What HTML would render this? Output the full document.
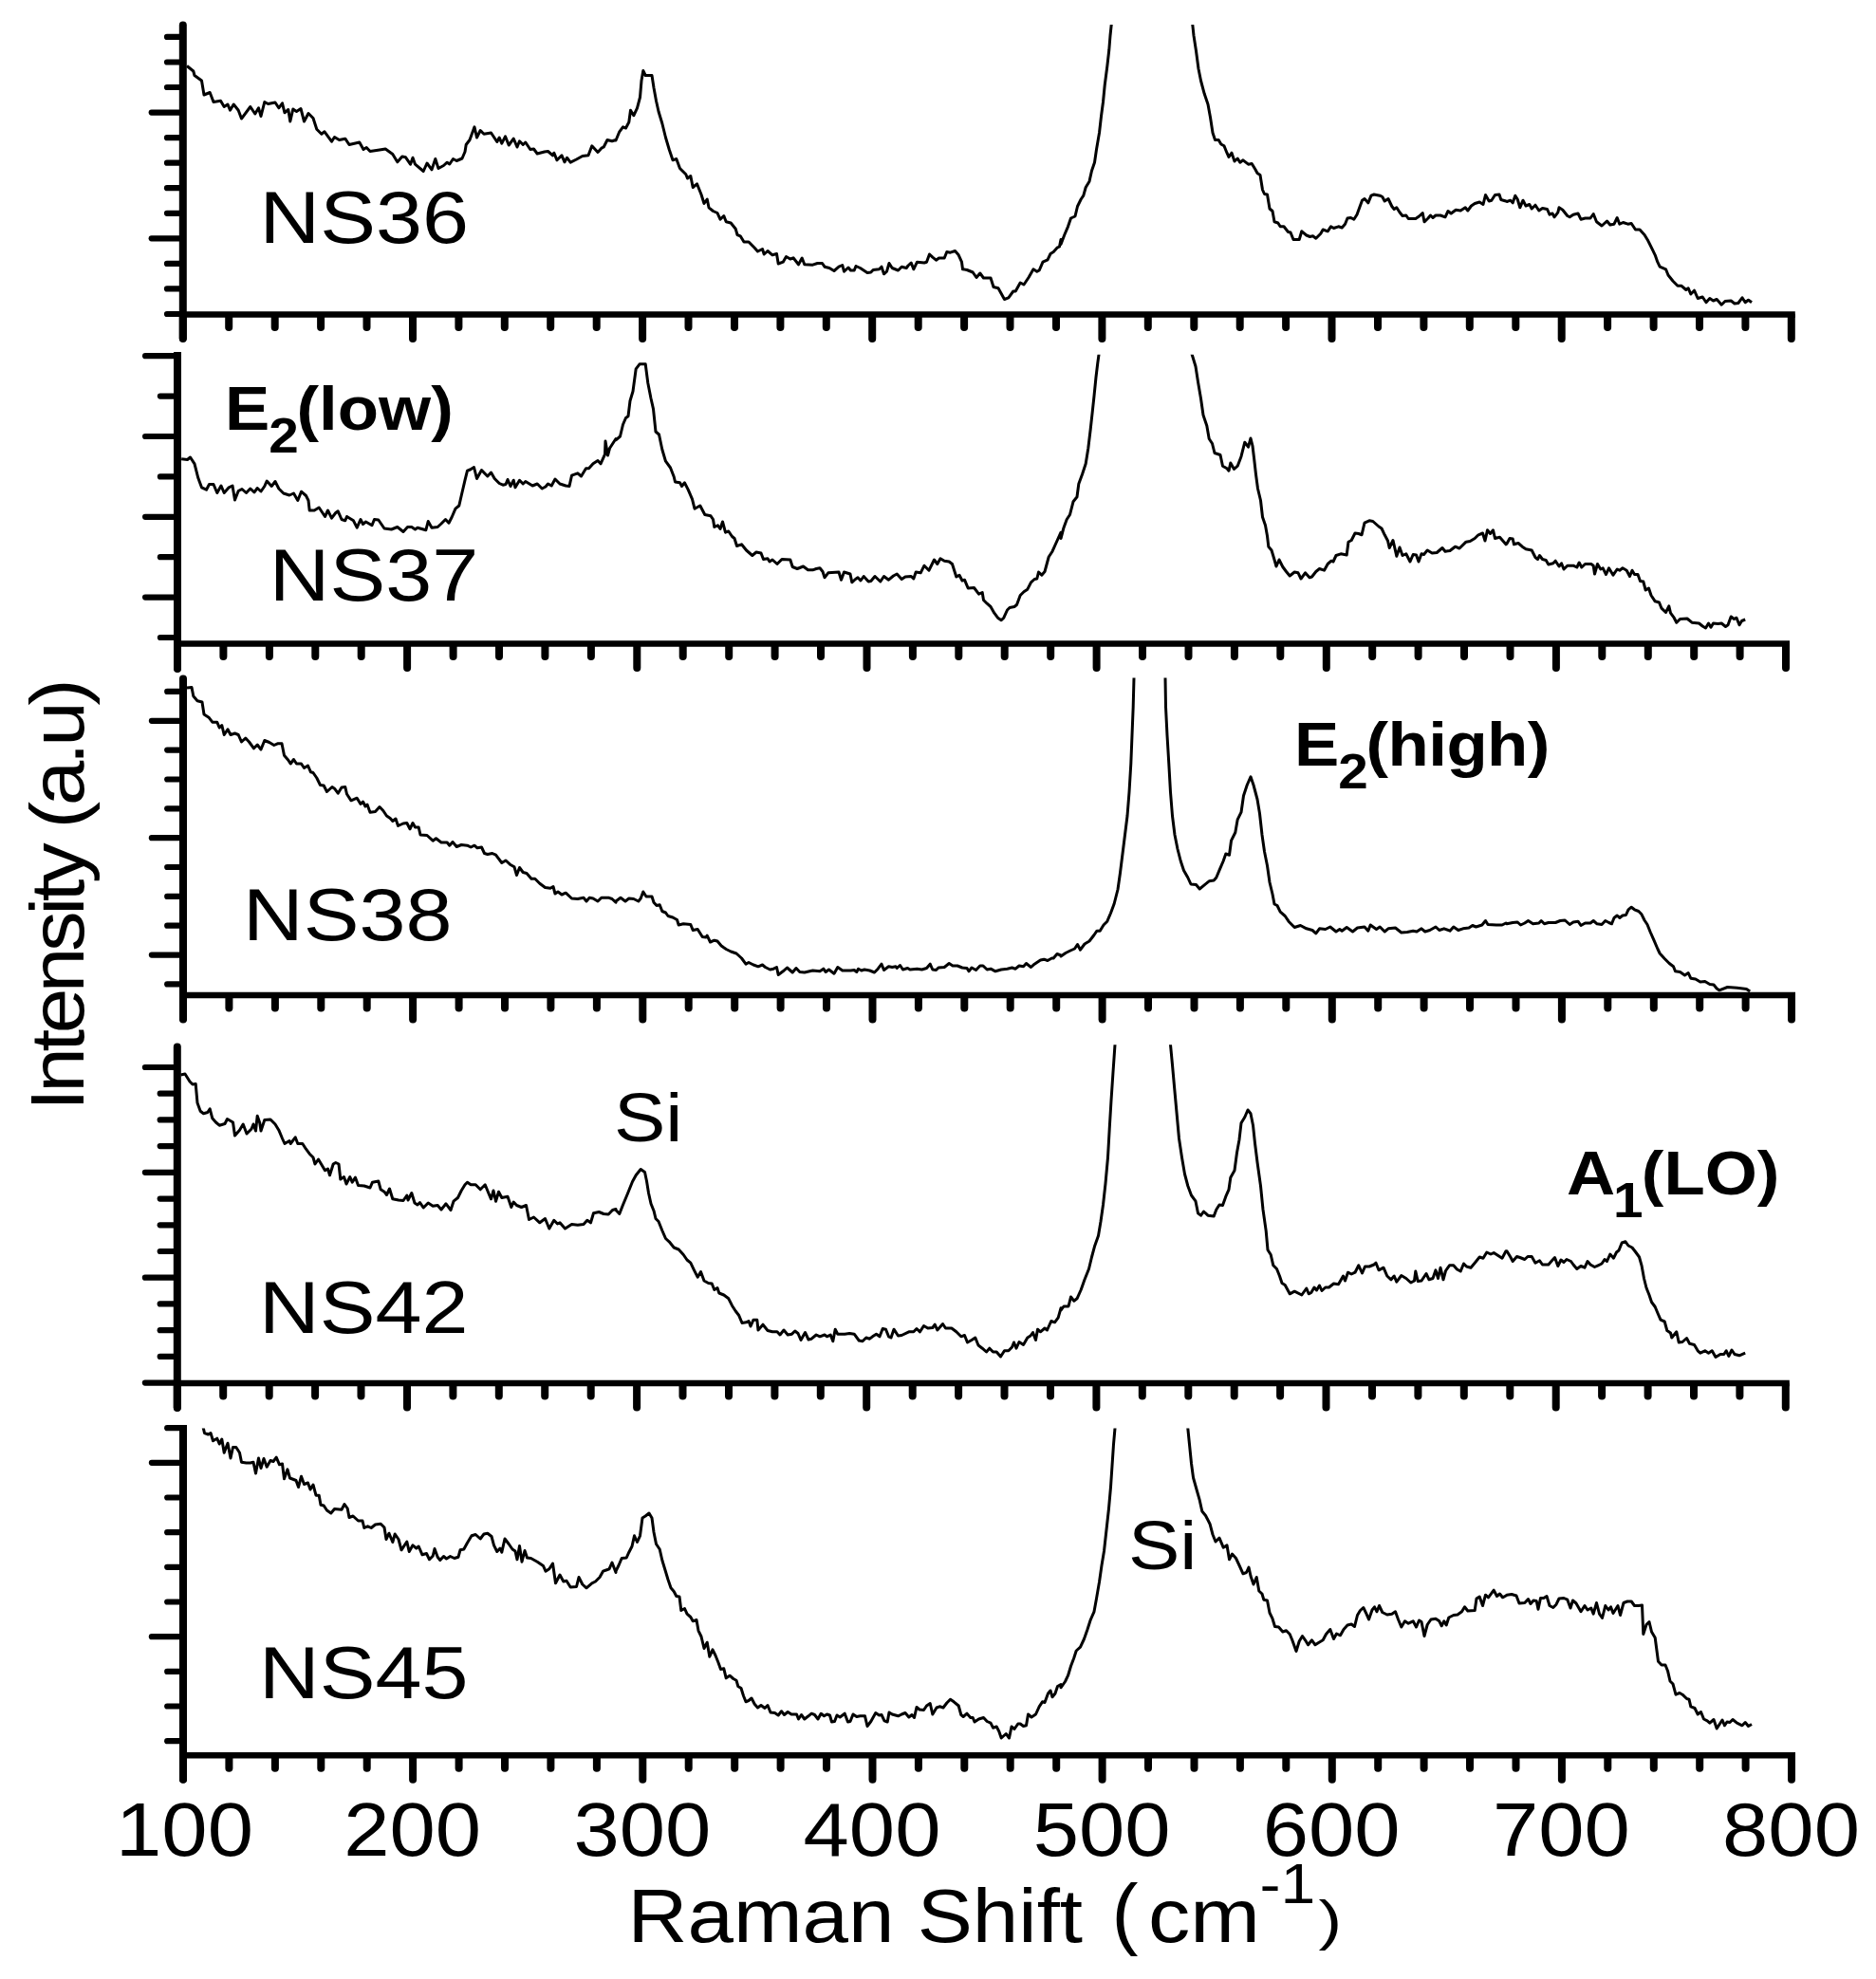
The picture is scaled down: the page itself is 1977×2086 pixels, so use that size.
<!DOCTYPE html>
<html lang="en"><head><meta charset="utf-8"><title>Raman spectra</title>
<style>html,body{margin:0;padding:0;background:#fff}body{width:1977px;height:2086px;overflow:hidden}</style>
</head><body>
<svg width="1977" height="2086" viewBox="0 0 1977 2086" style="display:block">
<defs><clipPath id="cp1"><rect x="0" y="26.0" width="1977" height="420"/></clipPath><clipPath id="cp2"><rect x="0" y="373.75" width="1977" height="420"/></clipPath><clipPath id="cp3"><rect x="0" y="714.5" width="1977" height="420"/></clipPath><clipPath id="cp4"><rect x="0" y="1101.25" width="1977" height="420"/></clipPath><clipPath id="cp5"><rect x="0" y="1505.5" width="1977" height="420"/></clipPath></defs>
<rect width="1977" height="2086" fill="#fff"/>
<g stroke="#000" fill="none">
<line x1="192.8" y1="26.5" x2="192.8" y2="356.3" stroke-width="8" stroke-linecap="round"/>
<line x1="192.8" y1="331.4" x2="1891.8" y2="331.4" stroke-width="6.5" stroke-linecap="butt"/>
<line x1="192.8" y1="332.9" x2="192.8" y2="356.9" stroke-width="8" stroke-linecap="round"/>
<line x1="241.2" y1="332.9" x2="241.2" y2="344.9" stroke-width="8" stroke-linecap="round"/>
<line x1="289.7" y1="332.9" x2="289.7" y2="344.9" stroke-width="8" stroke-linecap="round"/>
<line x1="338.1" y1="332.9" x2="338.1" y2="344.9" stroke-width="8" stroke-linecap="round"/>
<line x1="386.5" y1="332.9" x2="386.5" y2="344.9" stroke-width="8" stroke-linecap="round"/>
<line x1="435.0" y1="332.9" x2="435.0" y2="356.9" stroke-width="8" stroke-linecap="round"/>
<line x1="483.4" y1="332.9" x2="483.4" y2="344.9" stroke-width="8" stroke-linecap="round"/>
<line x1="531.8" y1="332.9" x2="531.8" y2="344.9" stroke-width="8" stroke-linecap="round"/>
<line x1="580.2" y1="332.9" x2="580.2" y2="344.9" stroke-width="8" stroke-linecap="round"/>
<line x1="628.7" y1="332.9" x2="628.7" y2="344.9" stroke-width="8" stroke-linecap="round"/>
<line x1="677.1" y1="332.9" x2="677.1" y2="356.9" stroke-width="8" stroke-linecap="round"/>
<line x1="725.5" y1="332.9" x2="725.5" y2="344.9" stroke-width="8" stroke-linecap="round"/>
<line x1="774.0" y1="332.9" x2="774.0" y2="344.9" stroke-width="8" stroke-linecap="round"/>
<line x1="822.4" y1="332.9" x2="822.4" y2="344.9" stroke-width="8" stroke-linecap="round"/>
<line x1="870.8" y1="332.9" x2="870.8" y2="344.9" stroke-width="8" stroke-linecap="round"/>
<line x1="919.2" y1="332.9" x2="919.2" y2="356.9" stroke-width="8" stroke-linecap="round"/>
<line x1="967.7" y1="332.9" x2="967.7" y2="344.9" stroke-width="8" stroke-linecap="round"/>
<line x1="1016.1" y1="332.9" x2="1016.1" y2="344.9" stroke-width="8" stroke-linecap="round"/>
<line x1="1064.5" y1="332.9" x2="1064.5" y2="344.9" stroke-width="8" stroke-linecap="round"/>
<line x1="1113.0" y1="332.9" x2="1113.0" y2="344.9" stroke-width="8" stroke-linecap="round"/>
<line x1="1161.4" y1="332.9" x2="1161.4" y2="356.9" stroke-width="8" stroke-linecap="round"/>
<line x1="1209.8" y1="332.9" x2="1209.8" y2="344.9" stroke-width="8" stroke-linecap="round"/>
<line x1="1258.3" y1="332.9" x2="1258.3" y2="344.9" stroke-width="8" stroke-linecap="round"/>
<line x1="1306.7" y1="332.9" x2="1306.7" y2="344.9" stroke-width="8" stroke-linecap="round"/>
<line x1="1355.1" y1="332.9" x2="1355.1" y2="344.9" stroke-width="8" stroke-linecap="round"/>
<line x1="1403.5" y1="332.9" x2="1403.5" y2="356.9" stroke-width="8" stroke-linecap="round"/>
<line x1="1452.0" y1="332.9" x2="1452.0" y2="344.9" stroke-width="8" stroke-linecap="round"/>
<line x1="1500.4" y1="332.9" x2="1500.4" y2="344.9" stroke-width="8" stroke-linecap="round"/>
<line x1="1548.8" y1="332.9" x2="1548.8" y2="344.9" stroke-width="8" stroke-linecap="round"/>
<line x1="1597.3" y1="332.9" x2="1597.3" y2="344.9" stroke-width="8" stroke-linecap="round"/>
<line x1="1645.7" y1="332.9" x2="1645.7" y2="356.9" stroke-width="8" stroke-linecap="round"/>
<line x1="1694.1" y1="332.9" x2="1694.1" y2="344.9" stroke-width="8" stroke-linecap="round"/>
<line x1="1742.6" y1="332.9" x2="1742.6" y2="344.9" stroke-width="8" stroke-linecap="round"/>
<line x1="1791.0" y1="332.9" x2="1791.0" y2="344.9" stroke-width="8" stroke-linecap="round"/>
<line x1="1839.4" y1="332.9" x2="1839.4" y2="344.9" stroke-width="8" stroke-linecap="round"/>
<line x1="1887.8" y1="332.9" x2="1887.8" y2="356.9" stroke-width="8" stroke-linecap="round"/>
<line x1="192.8" y1="331.0" x2="176.0" y2="331.0" stroke-width="6.2" stroke-linecap="round"/>
<line x1="192.8" y1="304.4" x2="176.0" y2="304.4" stroke-width="6.2" stroke-linecap="round"/>
<line x1="192.8" y1="277.9" x2="176.0" y2="277.9" stroke-width="6.2" stroke-linecap="round"/>
<line x1="192.8" y1="251.3" x2="159.7" y2="251.3" stroke-width="6.2" stroke-linecap="round"/>
<line x1="192.8" y1="224.8" x2="176.0" y2="224.8" stroke-width="6.2" stroke-linecap="round"/>
<line x1="192.8" y1="198.2" x2="176.0" y2="198.2" stroke-width="6.2" stroke-linecap="round"/>
<line x1="192.8" y1="171.7" x2="176.0" y2="171.7" stroke-width="6.2" stroke-linecap="round"/>
<line x1="192.8" y1="145.2" x2="176.0" y2="145.2" stroke-width="6.2" stroke-linecap="round"/>
<line x1="192.8" y1="118.6" x2="159.7" y2="118.6" stroke-width="6.2" stroke-linecap="round"/>
<line x1="192.8" y1="92.0" x2="176.0" y2="92.0" stroke-width="6.2" stroke-linecap="round"/>
<line x1="192.8" y1="65.5" x2="176.0" y2="65.5" stroke-width="6.2" stroke-linecap="round"/>
<line x1="192.8" y1="38.9" x2="176.0" y2="38.9" stroke-width="6.2" stroke-linecap="round"/>
<line x1="187.0" y1="371.0" x2="187.0" y2="705.0" stroke-width="8" stroke-linecap="butt"/>
<line x1="187.0" y1="704.0" x2="187.0" y2="705.0" stroke-width="8" stroke-linecap="round"/>
<line x1="187.0" y1="678.5" x2="1886.0" y2="678.5" stroke-width="6.5" stroke-linecap="butt"/>
<line x1="187.0" y1="680.0" x2="187.0" y2="704.0" stroke-width="8" stroke-linecap="round"/>
<line x1="235.4" y1="680.0" x2="235.4" y2="692.0" stroke-width="8" stroke-linecap="round"/>
<line x1="283.9" y1="680.0" x2="283.9" y2="692.0" stroke-width="8" stroke-linecap="round"/>
<line x1="332.3" y1="680.0" x2="332.3" y2="692.0" stroke-width="8" stroke-linecap="round"/>
<line x1="380.7" y1="680.0" x2="380.7" y2="692.0" stroke-width="8" stroke-linecap="round"/>
<line x1="429.1" y1="680.0" x2="429.1" y2="704.0" stroke-width="8" stroke-linecap="round"/>
<line x1="477.6" y1="680.0" x2="477.6" y2="692.0" stroke-width="8" stroke-linecap="round"/>
<line x1="526.0" y1="680.0" x2="526.0" y2="692.0" stroke-width="8" stroke-linecap="round"/>
<line x1="574.4" y1="680.0" x2="574.4" y2="692.0" stroke-width="8" stroke-linecap="round"/>
<line x1="622.9" y1="680.0" x2="622.9" y2="692.0" stroke-width="8" stroke-linecap="round"/>
<line x1="671.3" y1="680.0" x2="671.3" y2="704.0" stroke-width="8" stroke-linecap="round"/>
<line x1="719.7" y1="680.0" x2="719.7" y2="692.0" stroke-width="8" stroke-linecap="round"/>
<line x1="768.2" y1="680.0" x2="768.2" y2="692.0" stroke-width="8" stroke-linecap="round"/>
<line x1="816.6" y1="680.0" x2="816.6" y2="692.0" stroke-width="8" stroke-linecap="round"/>
<line x1="865.0" y1="680.0" x2="865.0" y2="692.0" stroke-width="8" stroke-linecap="round"/>
<line x1="913.5" y1="680.0" x2="913.5" y2="704.0" stroke-width="8" stroke-linecap="round"/>
<line x1="961.9" y1="680.0" x2="961.9" y2="692.0" stroke-width="8" stroke-linecap="round"/>
<line x1="1010.3" y1="680.0" x2="1010.3" y2="692.0" stroke-width="8" stroke-linecap="round"/>
<line x1="1058.7" y1="680.0" x2="1058.7" y2="692.0" stroke-width="8" stroke-linecap="round"/>
<line x1="1107.2" y1="680.0" x2="1107.2" y2="692.0" stroke-width="8" stroke-linecap="round"/>
<line x1="1155.6" y1="680.0" x2="1155.6" y2="704.0" stroke-width="8" stroke-linecap="round"/>
<line x1="1204.0" y1="680.0" x2="1204.0" y2="692.0" stroke-width="8" stroke-linecap="round"/>
<line x1="1252.5" y1="680.0" x2="1252.5" y2="692.0" stroke-width="8" stroke-linecap="round"/>
<line x1="1300.9" y1="680.0" x2="1300.9" y2="692.0" stroke-width="8" stroke-linecap="round"/>
<line x1="1349.3" y1="680.0" x2="1349.3" y2="692.0" stroke-width="8" stroke-linecap="round"/>
<line x1="1397.8" y1="680.0" x2="1397.8" y2="704.0" stroke-width="8" stroke-linecap="round"/>
<line x1="1446.2" y1="680.0" x2="1446.2" y2="692.0" stroke-width="8" stroke-linecap="round"/>
<line x1="1494.6" y1="680.0" x2="1494.6" y2="692.0" stroke-width="8" stroke-linecap="round"/>
<line x1="1543.0" y1="680.0" x2="1543.0" y2="692.0" stroke-width="8" stroke-linecap="round"/>
<line x1="1591.5" y1="680.0" x2="1591.5" y2="692.0" stroke-width="8" stroke-linecap="round"/>
<line x1="1639.9" y1="680.0" x2="1639.9" y2="704.0" stroke-width="8" stroke-linecap="round"/>
<line x1="1688.3" y1="680.0" x2="1688.3" y2="692.0" stroke-width="8" stroke-linecap="round"/>
<line x1="1736.8" y1="680.0" x2="1736.8" y2="692.0" stroke-width="8" stroke-linecap="round"/>
<line x1="1785.2" y1="680.0" x2="1785.2" y2="692.0" stroke-width="8" stroke-linecap="round"/>
<line x1="1833.6" y1="680.0" x2="1833.6" y2="692.0" stroke-width="8" stroke-linecap="round"/>
<line x1="1882.0" y1="680.0" x2="1882.0" y2="704.0" stroke-width="8" stroke-linecap="round"/>
<line x1="187.0" y1="672.0" x2="168.9" y2="672.0" stroke-width="6.2" stroke-linecap="round"/>
<line x1="187.0" y1="629.6" x2="153.1" y2="629.6" stroke-width="6.2" stroke-linecap="round"/>
<line x1="187.0" y1="587.2" x2="168.9" y2="587.2" stroke-width="6.2" stroke-linecap="round"/>
<line x1="187.0" y1="544.8" x2="153.1" y2="544.8" stroke-width="6.2" stroke-linecap="round"/>
<line x1="187.0" y1="502.4" x2="168.9" y2="502.4" stroke-width="6.2" stroke-linecap="round"/>
<line x1="187.0" y1="460.0" x2="153.1" y2="460.0" stroke-width="6.2" stroke-linecap="round"/>
<line x1="187.0" y1="417.6" x2="168.9" y2="417.6" stroke-width="6.2" stroke-linecap="round"/>
<line x1="187.0" y1="375.2" x2="153.1" y2="375.2" stroke-width="6.2" stroke-linecap="round"/>
<line x1="193.0" y1="715.5" x2="193.0" y2="1073.6" stroke-width="8" stroke-linecap="round"/>
<line x1="193.0" y1="1049.0" x2="1892.0" y2="1049.0" stroke-width="6.5" stroke-linecap="butt"/>
<line x1="193.0" y1="1050.5" x2="193.0" y2="1074.5" stroke-width="8" stroke-linecap="round"/>
<line x1="241.4" y1="1050.5" x2="241.4" y2="1062.5" stroke-width="8" stroke-linecap="round"/>
<line x1="289.9" y1="1050.5" x2="289.9" y2="1062.5" stroke-width="8" stroke-linecap="round"/>
<line x1="338.3" y1="1050.5" x2="338.3" y2="1062.5" stroke-width="8" stroke-linecap="round"/>
<line x1="386.7" y1="1050.5" x2="386.7" y2="1062.5" stroke-width="8" stroke-linecap="round"/>
<line x1="435.1" y1="1050.5" x2="435.1" y2="1074.5" stroke-width="8" stroke-linecap="round"/>
<line x1="483.6" y1="1050.5" x2="483.6" y2="1062.5" stroke-width="8" stroke-linecap="round"/>
<line x1="532.0" y1="1050.5" x2="532.0" y2="1062.5" stroke-width="8" stroke-linecap="round"/>
<line x1="580.4" y1="1050.5" x2="580.4" y2="1062.5" stroke-width="8" stroke-linecap="round"/>
<line x1="628.9" y1="1050.5" x2="628.9" y2="1062.5" stroke-width="8" stroke-linecap="round"/>
<line x1="677.3" y1="1050.5" x2="677.3" y2="1074.5" stroke-width="8" stroke-linecap="round"/>
<line x1="725.7" y1="1050.5" x2="725.7" y2="1062.5" stroke-width="8" stroke-linecap="round"/>
<line x1="774.2" y1="1050.5" x2="774.2" y2="1062.5" stroke-width="8" stroke-linecap="round"/>
<line x1="822.6" y1="1050.5" x2="822.6" y2="1062.5" stroke-width="8" stroke-linecap="round"/>
<line x1="871.0" y1="1050.5" x2="871.0" y2="1062.5" stroke-width="8" stroke-linecap="round"/>
<line x1="919.5" y1="1050.5" x2="919.5" y2="1074.5" stroke-width="8" stroke-linecap="round"/>
<line x1="967.9" y1="1050.5" x2="967.9" y2="1062.5" stroke-width="8" stroke-linecap="round"/>
<line x1="1016.3" y1="1050.5" x2="1016.3" y2="1062.5" stroke-width="8" stroke-linecap="round"/>
<line x1="1064.7" y1="1050.5" x2="1064.7" y2="1062.5" stroke-width="8" stroke-linecap="round"/>
<line x1="1113.2" y1="1050.5" x2="1113.2" y2="1062.5" stroke-width="8" stroke-linecap="round"/>
<line x1="1161.6" y1="1050.5" x2="1161.6" y2="1074.5" stroke-width="8" stroke-linecap="round"/>
<line x1="1210.0" y1="1050.5" x2="1210.0" y2="1062.5" stroke-width="8" stroke-linecap="round"/>
<line x1="1258.5" y1="1050.5" x2="1258.5" y2="1062.5" stroke-width="8" stroke-linecap="round"/>
<line x1="1306.9" y1="1050.5" x2="1306.9" y2="1062.5" stroke-width="8" stroke-linecap="round"/>
<line x1="1355.3" y1="1050.5" x2="1355.3" y2="1062.5" stroke-width="8" stroke-linecap="round"/>
<line x1="1403.8" y1="1050.5" x2="1403.8" y2="1074.5" stroke-width="8" stroke-linecap="round"/>
<line x1="1452.2" y1="1050.5" x2="1452.2" y2="1062.5" stroke-width="8" stroke-linecap="round"/>
<line x1="1500.6" y1="1050.5" x2="1500.6" y2="1062.5" stroke-width="8" stroke-linecap="round"/>
<line x1="1549.0" y1="1050.5" x2="1549.0" y2="1062.5" stroke-width="8" stroke-linecap="round"/>
<line x1="1597.5" y1="1050.5" x2="1597.5" y2="1062.5" stroke-width="8" stroke-linecap="round"/>
<line x1="1645.9" y1="1050.5" x2="1645.9" y2="1074.5" stroke-width="8" stroke-linecap="round"/>
<line x1="1694.3" y1="1050.5" x2="1694.3" y2="1062.5" stroke-width="8" stroke-linecap="round"/>
<line x1="1742.8" y1="1050.5" x2="1742.8" y2="1062.5" stroke-width="8" stroke-linecap="round"/>
<line x1="1791.2" y1="1050.5" x2="1791.2" y2="1062.5" stroke-width="8" stroke-linecap="round"/>
<line x1="1839.6" y1="1050.5" x2="1839.6" y2="1062.5" stroke-width="8" stroke-linecap="round"/>
<line x1="1888.0" y1="1050.5" x2="1888.0" y2="1074.5" stroke-width="8" stroke-linecap="round"/>
<line x1="193.0" y1="1037.4" x2="176.2" y2="1037.4" stroke-width="6.2" stroke-linecap="round"/>
<line x1="193.0" y1="1006.6" x2="159.9" y2="1006.6" stroke-width="6.2" stroke-linecap="round"/>
<line x1="193.0" y1="975.7" x2="176.2" y2="975.7" stroke-width="6.2" stroke-linecap="round"/>
<line x1="193.0" y1="944.9" x2="176.2" y2="944.9" stroke-width="6.2" stroke-linecap="round"/>
<line x1="193.0" y1="914.0" x2="176.2" y2="914.0" stroke-width="6.2" stroke-linecap="round"/>
<line x1="193.0" y1="883.2" x2="159.9" y2="883.2" stroke-width="6.2" stroke-linecap="round"/>
<line x1="193.0" y1="852.3" x2="176.2" y2="852.3" stroke-width="6.2" stroke-linecap="round"/>
<line x1="193.0" y1="821.5" x2="176.2" y2="821.5" stroke-width="6.2" stroke-linecap="round"/>
<line x1="193.0" y1="790.6" x2="176.2" y2="790.6" stroke-width="6.2" stroke-linecap="round"/>
<line x1="193.0" y1="759.8" x2="159.9" y2="759.8" stroke-width="6.2" stroke-linecap="round"/>
<line x1="193.0" y1="728.9" x2="176.2" y2="728.9" stroke-width="6.2" stroke-linecap="round"/>
<line x1="186.8" y1="1103.5" x2="186.8" y2="1484.0" stroke-width="8" stroke-linecap="round"/>
<line x1="186.8" y1="1457.9" x2="1885.8" y2="1457.9" stroke-width="6.5" stroke-linecap="butt"/>
<line x1="186.8" y1="1459.4" x2="186.8" y2="1483.4" stroke-width="8" stroke-linecap="round"/>
<line x1="235.2" y1="1459.4" x2="235.2" y2="1471.4" stroke-width="8" stroke-linecap="round"/>
<line x1="283.7" y1="1459.4" x2="283.7" y2="1471.4" stroke-width="8" stroke-linecap="round"/>
<line x1="332.1" y1="1459.4" x2="332.1" y2="1471.4" stroke-width="8" stroke-linecap="round"/>
<line x1="380.5" y1="1459.4" x2="380.5" y2="1471.4" stroke-width="8" stroke-linecap="round"/>
<line x1="429.0" y1="1459.4" x2="429.0" y2="1483.4" stroke-width="8" stroke-linecap="round"/>
<line x1="477.4" y1="1459.4" x2="477.4" y2="1471.4" stroke-width="8" stroke-linecap="round"/>
<line x1="525.8" y1="1459.4" x2="525.8" y2="1471.4" stroke-width="8" stroke-linecap="round"/>
<line x1="574.2" y1="1459.4" x2="574.2" y2="1471.4" stroke-width="8" stroke-linecap="round"/>
<line x1="622.7" y1="1459.4" x2="622.7" y2="1471.4" stroke-width="8" stroke-linecap="round"/>
<line x1="671.1" y1="1459.4" x2="671.1" y2="1483.4" stroke-width="8" stroke-linecap="round"/>
<line x1="719.5" y1="1459.4" x2="719.5" y2="1471.4" stroke-width="8" stroke-linecap="round"/>
<line x1="768.0" y1="1459.4" x2="768.0" y2="1471.4" stroke-width="8" stroke-linecap="round"/>
<line x1="816.4" y1="1459.4" x2="816.4" y2="1471.4" stroke-width="8" stroke-linecap="round"/>
<line x1="864.8" y1="1459.4" x2="864.8" y2="1471.4" stroke-width="8" stroke-linecap="round"/>
<line x1="913.2" y1="1459.4" x2="913.2" y2="1483.4" stroke-width="8" stroke-linecap="round"/>
<line x1="961.7" y1="1459.4" x2="961.7" y2="1471.4" stroke-width="8" stroke-linecap="round"/>
<line x1="1010.1" y1="1459.4" x2="1010.1" y2="1471.4" stroke-width="8" stroke-linecap="round"/>
<line x1="1058.5" y1="1459.4" x2="1058.5" y2="1471.4" stroke-width="8" stroke-linecap="round"/>
<line x1="1107.0" y1="1459.4" x2="1107.0" y2="1471.4" stroke-width="8" stroke-linecap="round"/>
<line x1="1155.4" y1="1459.4" x2="1155.4" y2="1483.4" stroke-width="8" stroke-linecap="round"/>
<line x1="1203.8" y1="1459.4" x2="1203.8" y2="1471.4" stroke-width="8" stroke-linecap="round"/>
<line x1="1252.3" y1="1459.4" x2="1252.3" y2="1471.4" stroke-width="8" stroke-linecap="round"/>
<line x1="1300.7" y1="1459.4" x2="1300.7" y2="1471.4" stroke-width="8" stroke-linecap="round"/>
<line x1="1349.1" y1="1459.4" x2="1349.1" y2="1471.4" stroke-width="8" stroke-linecap="round"/>
<line x1="1397.5" y1="1459.4" x2="1397.5" y2="1483.4" stroke-width="8" stroke-linecap="round"/>
<line x1="1446.0" y1="1459.4" x2="1446.0" y2="1471.4" stroke-width="8" stroke-linecap="round"/>
<line x1="1494.4" y1="1459.4" x2="1494.4" y2="1471.4" stroke-width="8" stroke-linecap="round"/>
<line x1="1542.8" y1="1459.4" x2="1542.8" y2="1471.4" stroke-width="8" stroke-linecap="round"/>
<line x1="1591.3" y1="1459.4" x2="1591.3" y2="1471.4" stroke-width="8" stroke-linecap="round"/>
<line x1="1639.7" y1="1459.4" x2="1639.7" y2="1483.4" stroke-width="8" stroke-linecap="round"/>
<line x1="1688.1" y1="1459.4" x2="1688.1" y2="1471.4" stroke-width="8" stroke-linecap="round"/>
<line x1="1736.6" y1="1459.4" x2="1736.6" y2="1471.4" stroke-width="8" stroke-linecap="round"/>
<line x1="1785.0" y1="1459.4" x2="1785.0" y2="1471.4" stroke-width="8" stroke-linecap="round"/>
<line x1="1833.4" y1="1459.4" x2="1833.4" y2="1471.4" stroke-width="8" stroke-linecap="round"/>
<line x1="1881.8" y1="1459.4" x2="1881.8" y2="1483.4" stroke-width="8" stroke-linecap="round"/>
<line x1="186.8" y1="1457.6" x2="152.9" y2="1457.6" stroke-width="6.2" stroke-linecap="round"/>
<line x1="186.8" y1="1429.9" x2="168.7" y2="1429.9" stroke-width="6.2" stroke-linecap="round"/>
<line x1="186.8" y1="1402.2" x2="168.7" y2="1402.2" stroke-width="6.2" stroke-linecap="round"/>
<line x1="186.8" y1="1374.4" x2="168.7" y2="1374.4" stroke-width="6.2" stroke-linecap="round"/>
<line x1="186.8" y1="1346.7" x2="152.9" y2="1346.7" stroke-width="6.2" stroke-linecap="round"/>
<line x1="186.8" y1="1319.0" x2="168.7" y2="1319.0" stroke-width="6.2" stroke-linecap="round"/>
<line x1="186.8" y1="1291.3" x2="168.7" y2="1291.3" stroke-width="6.2" stroke-linecap="round"/>
<line x1="186.8" y1="1263.6" x2="168.7" y2="1263.6" stroke-width="6.2" stroke-linecap="round"/>
<line x1="186.8" y1="1235.8" x2="152.9" y2="1235.8" stroke-width="6.2" stroke-linecap="round"/>
<line x1="186.8" y1="1208.1" x2="168.7" y2="1208.1" stroke-width="6.2" stroke-linecap="round"/>
<line x1="186.8" y1="1180.4" x2="168.7" y2="1180.4" stroke-width="6.2" stroke-linecap="round"/>
<line x1="186.8" y1="1152.7" x2="168.7" y2="1152.7" stroke-width="6.2" stroke-linecap="round"/>
<line x1="186.8" y1="1125.0" x2="152.9" y2="1125.0" stroke-width="6.2" stroke-linecap="round"/>
<line x1="193.0" y1="1502.0" x2="193.0" y2="1875.4" stroke-width="8" stroke-linecap="butt"/>
<line x1="193.0" y1="1874.4" x2="193.0" y2="1875.4" stroke-width="8" stroke-linecap="round"/>
<line x1="193.0" y1="1850.3" x2="1892.0" y2="1850.3" stroke-width="6.5" stroke-linecap="butt"/>
<line x1="193.0" y1="1851.8" x2="193.0" y2="1875.8" stroke-width="8" stroke-linecap="round"/>
<line x1="241.4" y1="1851.8" x2="241.4" y2="1863.8" stroke-width="8" stroke-linecap="round"/>
<line x1="289.9" y1="1851.8" x2="289.9" y2="1863.8" stroke-width="8" stroke-linecap="round"/>
<line x1="338.3" y1="1851.8" x2="338.3" y2="1863.8" stroke-width="8" stroke-linecap="round"/>
<line x1="386.7" y1="1851.8" x2="386.7" y2="1863.8" stroke-width="8" stroke-linecap="round"/>
<line x1="435.1" y1="1851.8" x2="435.1" y2="1875.8" stroke-width="8" stroke-linecap="round"/>
<line x1="483.6" y1="1851.8" x2="483.6" y2="1863.8" stroke-width="8" stroke-linecap="round"/>
<line x1="532.0" y1="1851.8" x2="532.0" y2="1863.8" stroke-width="8" stroke-linecap="round"/>
<line x1="580.4" y1="1851.8" x2="580.4" y2="1863.8" stroke-width="8" stroke-linecap="round"/>
<line x1="628.9" y1="1851.8" x2="628.9" y2="1863.8" stroke-width="8" stroke-linecap="round"/>
<line x1="677.3" y1="1851.8" x2="677.3" y2="1875.8" stroke-width="8" stroke-linecap="round"/>
<line x1="725.7" y1="1851.8" x2="725.7" y2="1863.8" stroke-width="8" stroke-linecap="round"/>
<line x1="774.2" y1="1851.8" x2="774.2" y2="1863.8" stroke-width="8" stroke-linecap="round"/>
<line x1="822.6" y1="1851.8" x2="822.6" y2="1863.8" stroke-width="8" stroke-linecap="round"/>
<line x1="871.0" y1="1851.8" x2="871.0" y2="1863.8" stroke-width="8" stroke-linecap="round"/>
<line x1="919.5" y1="1851.8" x2="919.5" y2="1875.8" stroke-width="8" stroke-linecap="round"/>
<line x1="967.9" y1="1851.8" x2="967.9" y2="1863.8" stroke-width="8" stroke-linecap="round"/>
<line x1="1016.3" y1="1851.8" x2="1016.3" y2="1863.8" stroke-width="8" stroke-linecap="round"/>
<line x1="1064.7" y1="1851.8" x2="1064.7" y2="1863.8" stroke-width="8" stroke-linecap="round"/>
<line x1="1113.2" y1="1851.8" x2="1113.2" y2="1863.8" stroke-width="8" stroke-linecap="round"/>
<line x1="1161.6" y1="1851.8" x2="1161.6" y2="1875.8" stroke-width="8" stroke-linecap="round"/>
<line x1="1210.0" y1="1851.8" x2="1210.0" y2="1863.8" stroke-width="8" stroke-linecap="round"/>
<line x1="1258.5" y1="1851.8" x2="1258.5" y2="1863.8" stroke-width="8" stroke-linecap="round"/>
<line x1="1306.9" y1="1851.8" x2="1306.9" y2="1863.8" stroke-width="8" stroke-linecap="round"/>
<line x1="1355.3" y1="1851.8" x2="1355.3" y2="1863.8" stroke-width="8" stroke-linecap="round"/>
<line x1="1403.8" y1="1851.8" x2="1403.8" y2="1875.8" stroke-width="8" stroke-linecap="round"/>
<line x1="1452.2" y1="1851.8" x2="1452.2" y2="1863.8" stroke-width="8" stroke-linecap="round"/>
<line x1="1500.6" y1="1851.8" x2="1500.6" y2="1863.8" stroke-width="8" stroke-linecap="round"/>
<line x1="1549.0" y1="1851.8" x2="1549.0" y2="1863.8" stroke-width="8" stroke-linecap="round"/>
<line x1="1597.5" y1="1851.8" x2="1597.5" y2="1863.8" stroke-width="8" stroke-linecap="round"/>
<line x1="1645.9" y1="1851.8" x2="1645.9" y2="1875.8" stroke-width="8" stroke-linecap="round"/>
<line x1="1694.3" y1="1851.8" x2="1694.3" y2="1863.8" stroke-width="8" stroke-linecap="round"/>
<line x1="1742.8" y1="1851.8" x2="1742.8" y2="1863.8" stroke-width="8" stroke-linecap="round"/>
<line x1="1791.2" y1="1851.8" x2="1791.2" y2="1863.8" stroke-width="8" stroke-linecap="round"/>
<line x1="1839.6" y1="1851.8" x2="1839.6" y2="1863.8" stroke-width="8" stroke-linecap="round"/>
<line x1="1888.0" y1="1851.8" x2="1888.0" y2="1875.8" stroke-width="8" stroke-linecap="round"/>
<line x1="193.0" y1="1835.2" x2="176.2" y2="1835.2" stroke-width="6.2" stroke-linecap="round"/>
<line x1="193.0" y1="1798.5" x2="176.2" y2="1798.5" stroke-width="6.2" stroke-linecap="round"/>
<line x1="193.0" y1="1761.9" x2="176.2" y2="1761.9" stroke-width="6.2" stroke-linecap="round"/>
<line x1="193.0" y1="1725.2" x2="159.9" y2="1725.2" stroke-width="6.2" stroke-linecap="round"/>
<line x1="193.0" y1="1688.5" x2="176.2" y2="1688.5" stroke-width="6.2" stroke-linecap="round"/>
<line x1="193.0" y1="1651.8" x2="176.2" y2="1651.8" stroke-width="6.2" stroke-linecap="round"/>
<line x1="193.0" y1="1615.2" x2="176.2" y2="1615.2" stroke-width="6.2" stroke-linecap="round"/>
<line x1="193.0" y1="1578.5" x2="176.2" y2="1578.5" stroke-width="6.2" stroke-linecap="round"/>
<line x1="193.0" y1="1541.8" x2="159.9" y2="1541.8" stroke-width="6.2" stroke-linecap="round"/>
<line x1="193.0" y1="1505.2" x2="176.2" y2="1505.2" stroke-width="6.2" stroke-linecap="round"/>
</g>
<g clip-path="url(#cp1)" stroke="#000" fill="none" stroke-width="3" stroke-linejoin="round" stroke-linecap="butt">
<path d="M197.0 69.5 L203.8 75.0 L205.0 79.5 L212.5 85.0 L215.0 100.0 L221.2 97.5 L225.0 107.5 L232.5 106.2 L236.2 112.5 L240.0 110.0 L242.5 116.2 L246.2 110.0 L251.2 116.2 L254.5 125.0 L263.8 112.5 L268.8 120.0 L272.5 113.8 L275.0 122.5 L278.8 107.5 L282.5 109.5 L290.0 108.0 L293.8 113.8 L297.5 108.8 L300.0 118.8 L303.8 115.5 L305.8 128.0 L308.8 115.0 L312.5 117.5 L317.0 114.5 L320.5 128.0 L325.0 119.5 L330.0 124.5 L333.8 136.2 L338.8 141.2 L342.0 138.8 L349.5 149.2 L352.5 144.5 L357.5 147.5 L363.8 146.2 L368.0 152.5 L378.8 150.0 L383.0 157.5 L386.2 155.5 L390.0 159.5 L400.0 158.0 L406.2 157.0 L413.8 162.5 L418.8 170.8 L423.8 165.0 L427.5 165.8 L432.5 173.2 L435.0 166.2 L437.5 173.2 L446.2 180.5 L450.0 172.0 L455.0 178.8 L458.8 167.5 L462.0 177.5 L467.5 174.5 L471.2 171.2 L473.8 173.0 L477.5 167.5 L481.2 169.5 L487.0 167.0 L490.0 160.0 L491.2 152.5 L495.0 147.5 L500.0 133.8 L502.5 145.0 L506.2 137.5 L510.0 141.2 L517.5 140.0 L523.8 149.5 L526.2 145.0 L528.8 151.2 L532.5 143.8 L536.2 153.0 L541.2 146.2 L545.0 155.0 L547.5 148.8 L551.2 152.5 L553.8 150.0 L558.8 157.5 L562.5 157.0 L566.2 162.0 L573.8 160.0 L577.5 159.5 L582.5 163.8 L583.8 161.2 L587.0 168.8 L592.0 163.8 L595.0 170.8 L597.5 166.2 L601.2 171.2 L607.5 168.0 L613.8 164.5 L620.0 163.8 L623.8 153.8 L630.0 160.5 L633.8 156.2 L636.2 155.0 L640.0 147.5 L645.0 148.8 L649.0 147.5 L649.0 148.0 L652.8 138.8 L656.5 133.8 L659.5 135.0 L662.8 128.8 L664.5 116.2 L667.8 121.8 L671.5 113.8 L674.5 102.5 L676.0 85.0 L677.8 74.5 L680.2 79.5 L687.0 79.5 L689.0 92.5 L691.5 106.2 L694.0 117.5 L697.8 130.0 L701.5 145.0 L705.2 157.5 L709.0 168.8 L712.8 167.5 L716.5 177.5 L722.8 183.8 L724.5 188.0 L727.8 185.5 L730.2 197.5 L734.5 193.8 L739.0 205.0 L742.0 214.5 L745.2 210.0 L747.0 218.8 L751.5 222.5 L756.0 224.5 L759.0 231.2 L762.8 227.5 L765.2 233.8 L770.2 235.0 L775.2 241.2 L777.0 247.5 L780.2 248.8 L784.0 255.0 L789.0 255.0 L795.2 261.2 L798.5 265.0 L803.5 262.5 L805.2 268.0 L809.0 264.5 L814.0 268.8 L818.5 267.5 L820.2 278.0 L825.2 276.2 L828.5 270.5 L832.8 273.0 L836.0 271.8 L841.5 278.8 L845.2 272.0 L847.8 278.8 L856.5 279.2 L861.5 277.5 L866.5 277.5 L869.0 281.2 L874.0 282.5 L879.0 285.5 L884.0 281.2 L887.8 279.5 L889.5 286.2 L894.0 282.0 L896.5 285.0 L900.2 285.0 L902.0 280.5 L906.5 282.5 L914.0 287.5 L917.8 287.0 L920.2 284.5 L926.5 283.8 L929.0 281.2 L931.5 288.8 L934.5 286.2 L937.0 277.5 L940.2 282.5 L946.5 285.0 L950.2 281.2 L955.2 282.5 L957.0 280.0 L960.2 277.0 L962.8 283.8 L966.5 276.2 L974.0 277.0 L976.5 276.2 L979.5 268.0 L982.8 271.2 L986.5 274.2 L989.5 272.0 L995.2 272.0 L997.8 265.5 L1001.5 266.2 L1006.5 264.5 L1010.2 268.8 L1013.5 276.2 L1014.5 283.8 L1019.0 284.5 L1025.2 287.0 L1029.0 292.5 L1032.8 288.0 L1036.5 293.0 L1044.0 293.0 L1047.0 302.5 L1052.0 303.8 L1058.5 315.5 L1062.8 313.8 L1067.8 307.0 L1070.2 307.0 L1075.2 298.0 L1079.0 300.0 L1084.0 292.5 L1089.0 283.8 L1092.8 286.2 L1095.2 285.0 L1099.0 276.2 L1104.0 273.8 L1107.0 267.5 L1110.2 265.5 L1114.0 261.2 L1116.5 260.0 L1118.0 252.5 L1118.0 257.5 L1121.8 247.5 L1125.5 238.8 L1128.5 230.0 L1133.0 228.0 L1135.5 217.5 L1139.2 210.0 L1141.8 206.2 L1144.2 197.5 L1148.0 191.2 L1150.5 180.0 L1153.5 171.2 L1155.5 157.5 L1158.5 140.0 L1160.5 122.5 L1162.5 107.5 L1164.2 90.0 L1166.8 70.0 L1168.8 52.5 L1170.0 37.5 L1171.2 26.2 L1172.1 18.2"/>
<path d="M1255.9 18.2 L1256.8 26.2 L1258.0 37.5 L1260.5 53.8 L1263.0 72.5 L1265.5 85.0 L1269.2 98.8 L1273.0 110.0 L1275.5 123.8 L1278.0 140.0 L1280.5 147.5 L1284.2 147.5 L1286.8 152.0 L1290.0 153.8 L1293.0 161.2 L1295.0 165.5 L1298.0 161.2 L1301.0 170.0 L1304.2 167.0 L1306.8 171.2 L1310.0 168.8 L1315.5 173.2 L1319.2 172.5 L1323.0 178.8 L1325.0 182.5 L1328.0 184.5 L1330.5 200.0 L1332.5 204.5 L1335.5 205.0 L1338.0 220.0 L1341.0 222.5 L1343.0 233.8 L1346.8 235.0 L1349.2 238.8 L1353.0 238.8 L1357.5 244.5 L1360.0 245.0 L1363.0 252.5 L1369.2 252.5 L1371.8 243.8 L1376.8 248.0 L1380.5 249.5 L1383.5 248.8 L1386.8 251.2 L1391.8 246.2 L1394.2 242.0 L1399.2 243.8 L1402.5 238.8 L1405.5 240.5 L1410.5 238.8 L1414.2 240.0 L1417.5 236.2 L1420.0 230.0 L1423.5 229.5 L1426.8 231.2 L1430.0 226.2 L1433.0 218.0 L1435.5 211.2 L1438.0 209.5 L1441.8 213.8 L1445.0 206.2 L1448.0 205.0 L1454.2 206.2 L1456.8 207.5 L1459.2 212.0 L1463.0 209.5 L1466.8 217.5 L1469.2 220.5 L1471.8 218.8 L1475.0 223.8 L1478.0 227.5 L1481.8 227.0 L1484.2 230.5 L1491.8 230.5 L1495.5 228.0 L1499.2 224.5 L1501.0 233.8 L1505.0 230.0 L1507.5 227.0 L1510.0 229.5 L1513.0 227.0 L1518.0 227.0 L1523.0 228.8 L1526.0 222.5 L1529.2 225.0 L1534.2 221.2 L1539.2 222.0 L1544.2 218.8 L1546.8 222.0 L1550.5 217.0 L1554.2 214.5 L1559.2 213.0 L1563.0 215.5 L1565.5 205.5 L1569.2 212.0 L1571.8 211.2 L1575.5 205.5 L1580.0 205.0 L1581.8 210.5 L1587.0 212.0 L1588.0 212.5 L1591.8 211.2 L1594.2 213.8 L1596.8 206.2 L1599.2 210.0 L1601.8 218.8 L1605.0 211.2 L1608.0 217.0 L1611.8 215.5 L1614.2 220.0 L1618.0 216.2 L1621.8 222.0 L1625.5 219.5 L1630.5 220.5 L1633.0 226.2 L1636.0 225.0 L1638.0 228.8 L1641.8 223.8 L1643.0 218.8 L1646.8 221.2 L1651.8 227.5 L1654.2 228.8 L1658.0 226.2 L1663.0 225.0 L1666.0 231.2 L1670.5 230.0 L1676.0 230.0 L1679.2 225.5 L1682.5 233.8 L1688.0 238.0 L1693.5 233.0 L1696.8 237.0 L1701.0 236.2 L1704.2 229.5 L1706.8 236.2 L1710.5 234.5 L1715.5 236.2 L1719.2 235.5 L1723.5 242.0 L1728.0 242.0 L1733.0 247.5 L1736.8 253.8 L1741.8 263.8 L1744.2 268.8 L1746.8 276.2 L1749.2 281.2 L1755.5 283.8 L1758.0 290.0 L1763.0 296.2 L1768.0 301.2 L1771.8 301.2 L1776.8 305.5 L1779.2 303.8 L1781.8 310.0 L1785.5 306.2 L1789.2 314.5 L1794.2 313.0 L1798.0 318.8 L1801.8 314.5 L1805.5 317.0 L1809.2 315.5 L1814.2 321.2 L1818.0 317.5 L1824.2 317.0 L1828.0 320.0 L1831.8 319.5 L1836.0 313.8 L1839.2 318.8 L1842.5 316.2 L1846.0 318.8"/>
</g>
<g clip-path="url(#cp2)" stroke="#000" fill="none" stroke-width="3" stroke-linejoin="round" stroke-linecap="butt">
<path d="M191.2 483.8 L197.5 484.5 L200.5 482.0 L205.0 488.8 L208.8 503.8 L212.5 513.8 L217.5 516.2 L220.5 510.5 L225.0 510.5 L228.8 519.5 L233.0 512.0 L236.2 519.5 L241.2 513.8 L245.0 512.0 L247.5 527.0 L251.2 517.5 L255.0 515.5 L259.5 519.5 L263.8 515.0 L268.0 518.8 L271.2 514.5 L275.0 518.0 L278.8 512.5 L281.2 507.0 L286.2 512.5 L290.0 507.5 L293.8 515.0 L298.8 520.0 L305.0 522.0 L309.5 520.0 L313.8 527.5 L317.5 518.2 L322.5 522.5 L325.0 527.5 L326.2 538.0 L331.2 538.0 L336.2 535.0 L342.5 544.5 L345.5 538.0 L349.5 546.2 L353.8 540.5 L356.2 538.8 L360.0 547.5 L363.8 548.8 L365.5 544.5 L372.5 548.8 L376.2 556.2 L380.0 547.5 L382.5 552.5 L385.5 550.0 L392.0 553.8 L394.5 547.5 L398.8 548.0 L405.0 557.0 L412.5 558.0 L418.8 555.5 L425.0 560.5 L429.5 555.5 L433.8 555.5 L437.5 558.0 L440.0 556.2 L448.8 558.8 L451.2 549.5 L455.0 556.2 L461.2 555.5 L465.0 552.0 L469.5 547.5 L473.0 551.2 L476.2 545.0 L480.0 536.2 L483.8 533.0 L486.2 522.5 L490.0 506.2 L492.5 496.2 L495.5 495.0 L499.5 492.5 L502.5 504.5 L507.5 495.5 L513.8 502.0 L517.5 498.0 L521.2 504.5 L526.2 509.5 L530.0 511.2 L533.0 510.5 L535.0 505.5 L538.0 512.5 L541.2 506.2 L543.0 513.8 L547.5 506.2 L551.2 510.0 L553.8 507.5 L561.2 512.0 L566.2 510.0 L571.2 515.0 L575.0 513.0 L577.5 510.0 L581.2 512.0 L585.0 505.0 L590.0 510.0 L596.2 512.0 L600.0 512.5 L602.5 501.2 L608.8 498.8 L612.5 502.0 L617.5 493.8 L620.5 493.8 L625.0 488.8 L630.0 485.5 L633.0 488.8 L637.5 478.8 L638.0 465.0 L640.5 480.0 L642.5 472.5 L649.0 462.5 L649.0 463.8 L653.5 460.0 L656.5 447.5 L659.5 440.5 L662.0 438.8 L664.0 422.5 L667.0 412.5 L670.2 388.8 L674.0 383.8 L680.2 383.8 L682.8 403.8 L686.0 420.0 L688.5 431.2 L691.0 455.0 L694.5 458.0 L697.8 473.8 L701.5 486.2 L706.5 493.0 L710.2 502.5 L711.5 508.0 L716.5 508.8 L718.5 512.5 L721.5 508.8 L725.2 516.2 L729.5 526.2 L732.0 536.2 L737.8 533.0 L742.8 542.5 L749.0 543.8 L751.5 547.5 L752.8 555.5 L756.5 553.8 L759.0 557.5 L761.5 550.0 L764.5 561.2 L767.8 560.0 L771.5 565.5 L774.0 567.5 L776.5 575.5 L781.5 573.8 L786.5 580.0 L792.8 585.5 L797.0 582.0 L802.0 583.0 L804.5 589.5 L809.0 588.8 L811.0 592.0 L814.0 590.0 L819.0 594.5 L824.0 589.5 L832.8 590.0 L835.2 597.5 L840.2 599.5 L846.5 597.0 L851.5 600.8 L856.5 600.8 L860.2 599.5 L864.0 598.8 L867.0 602.5 L869.0 608.8 L872.8 603.8 L884.0 603.0 L886.5 611.2 L889.5 603.0 L896.0 605.0 L897.8 613.8 L901.5 610.5 L904.0 608.8 L907.0 612.0 L910.2 607.5 L915.2 613.0 L917.8 612.5 L922.0 607.5 L927.8 613.0 L931.5 607.5 L936.5 611.2 L941.5 607.0 L945.2 605.0 L950.2 610.5 L954.0 608.0 L960.2 607.5 L962.8 610.0 L965.2 603.0 L970.2 603.8 L974.0 596.2 L979.0 601.2 L984.5 590.0 L987.8 594.5 L991.0 588.8 L995.2 591.2 L1000.2 592.0 L1003.5 594.5 L1007.8 608.0 L1011.0 606.2 L1014.0 612.0 L1016.5 611.2 L1020.2 620.0 L1026.5 619.5 L1031.5 626.2 L1035.2 624.5 L1036.5 632.5 L1040.2 636.2 L1044.0 639.5 L1047.8 646.2 L1051.5 651.2 L1055.2 653.8 L1057.8 651.2 L1061.5 643.0 L1064.0 640.5 L1069.0 639.5 L1071.5 637.5 L1075.2 627.5 L1079.0 623.8 L1082.8 621.2 L1086.5 613.8 L1090.2 610.5 L1092.8 610.0 L1094.5 603.0 L1097.8 606.2 L1101.0 602.5 L1105.2 587.0 L1109.0 581.2 L1114.0 570.0 L1118.0 561.2 L1118.0 567.5 L1121.0 556.2 L1124.2 547.5 L1127.5 542.5 L1131.0 528.8 L1135.0 523.8 L1136.8 510.0 L1140.5 500.0 L1144.2 488.8 L1146.8 472.5 L1149.2 452.5 L1151.0 436.2 L1153.0 417.5 L1155.0 397.5 L1156.8 382.5 L1158.0 373.8 L1159.1 365.8"/>
<path d="M1253.8 365.8 L1256.2 373.8 L1260.0 386.2 L1262.5 402.5 L1265.5 420.0 L1268.0 437.5 L1271.8 448.8 L1274.2 462.5 L1277.5 467.5 L1280.0 477.5 L1286.0 479.5 L1288.5 491.2 L1293.0 493.8 L1295.0 496.2 L1296.8 488.0 L1300.5 494.5 L1304.2 491.2 L1308.0 481.2 L1311.8 466.2 L1315.5 471.2 L1318.0 462.0 L1320.0 470.0 L1321.8 485.0 L1323.5 500.0 L1325.5 515.0 L1328.5 527.5 L1330.5 545.0 L1333.5 553.8 L1335.5 565.0 L1336.8 576.2 L1340.0 580.0 L1343.0 590.0 L1345.0 597.0 L1348.0 590.0 L1351.8 597.5 L1355.5 602.5 L1359.2 607.0 L1364.2 603.0 L1368.0 603.8 L1371.0 610.0 L1375.5 603.8 L1380.0 608.8 L1382.5 608.0 L1386.8 602.5 L1390.5 599.5 L1395.5 601.2 L1399.2 594.5 L1403.0 591.2 L1405.0 592.0 L1408.0 585.5 L1413.0 583.8 L1419.2 585.0 L1421.0 571.2 L1424.2 569.5 L1428.0 562.0 L1431.8 562.5 L1435.0 563.8 L1438.0 551.2 L1443.0 548.8 L1446.8 549.5 L1453.0 555.0 L1456.0 557.0 L1459.2 563.8 L1462.5 570.0 L1464.2 577.5 L1468.0 569.5 L1471.8 586.2 L1475.0 577.0 L1478.0 585.5 L1481.8 583.8 L1486.0 592.0 L1489.2 584.5 L1492.5 585.0 L1495.0 592.0 L1498.0 583.8 L1500.5 584.5 L1504.2 580.0 L1509.2 583.0 L1514.2 582.5 L1520.0 577.5 L1523.0 581.2 L1528.0 580.5 L1533.5 576.2 L1538.0 578.0 L1545.0 571.2 L1549.2 570.5 L1554.2 567.5 L1558.0 563.8 L1562.5 562.0 L1565.0 570.0 L1567.5 558.8 L1570.5 562.5 L1573.5 558.8 L1575.5 567.5 L1580.5 566.2 L1587.0 573.8 L1588.0 573.0 L1591.0 567.5 L1594.2 568.0 L1595.5 573.8 L1600.0 572.5 L1604.2 576.2 L1608.0 578.8 L1614.2 580.0 L1618.0 587.5 L1620.5 589.5 L1622.5 585.5 L1625.5 589.5 L1629.2 590.5 L1631.8 595.0 L1636.8 593.8 L1639.2 591.2 L1643.0 597.0 L1645.5 593.8 L1648.0 600.0 L1651.8 596.2 L1658.0 596.2 L1661.8 598.0 L1664.2 593.0 L1666.8 598.0 L1670.5 594.5 L1676.8 594.5 L1679.2 596.2 L1680.5 605.0 L1683.5 594.5 L1686.8 600.0 L1689.2 598.8 L1692.5 605.5 L1695.5 598.8 L1700.0 606.2 L1704.2 600.0 L1706.8 601.2 L1710.0 598.8 L1714.2 601.2 L1717.5 607.5 L1720.0 601.2 L1722.5 605.5 L1726.0 605.5 L1728.5 612.5 L1731.8 613.0 L1734.2 622.0 L1737.5 620.0 L1740.0 627.5 L1744.2 633.8 L1748.5 635.0 L1751.0 641.2 L1755.5 645.5 L1758.8 638.8 L1760.5 646.2 L1764.2 651.2 L1766.8 656.2 L1770.5 652.5 L1778.0 652.0 L1783.0 656.2 L1790.5 657.0 L1794.2 660.0 L1797.5 662.0 L1800.5 657.0 L1803.0 661.2 L1805.5 657.0 L1810.5 657.5 L1814.2 657.0 L1818.5 660.5 L1821.0 658.8 L1824.2 650.0 L1827.5 652.5 L1830.0 651.2 L1833.0 658.8 L1835.5 654.5 L1839.2 653.0"/>
</g>
<g clip-path="url(#cp3)" stroke="#000" fill="none" stroke-width="3" stroke-linejoin="round" stroke-linecap="butt">
<path d="M197.0 725.0 L202.0 724.5 L203.8 733.8 L208.0 738.8 L213.0 740.0 L215.0 753.0 L220.0 756.2 L223.8 761.2 L228.8 761.2 L231.2 767.0 L233.8 764.5 L236.2 774.5 L240.0 768.8 L243.0 774.5 L247.5 773.0 L251.2 774.5 L254.5 782.0 L258.8 778.0 L262.5 782.0 L267.5 788.8 L271.2 785.0 L275.0 790.0 L278.8 780.5 L283.8 782.5 L288.8 785.5 L292.5 783.8 L297.0 783.8 L299.5 796.2 L303.8 801.2 L306.2 805.0 L309.5 800.5 L312.5 805.0 L317.5 805.0 L320.5 809.5 L324.5 807.0 L327.5 813.8 L330.0 814.5 L333.8 820.0 L337.5 827.5 L341.2 828.0 L344.5 834.5 L350.0 829.5 L352.5 831.2 L356.2 836.2 L360.0 830.0 L363.8 829.5 L365.5 837.0 L370.0 843.8 L376.2 841.2 L380.0 847.5 L382.5 845.0 L385.0 850.0 L387.0 848.0 L390.0 856.2 L395.5 855.5 L400.0 850.5 L403.8 854.5 L407.5 860.0 L411.2 862.5 L413.8 865.5 L417.0 863.0 L419.5 870.5 L425.0 868.0 L428.8 867.5 L432.0 873.8 L435.0 867.5 L437.5 872.0 L441.2 872.0 L443.0 880.0 L450.0 880.5 L456.2 886.2 L459.5 883.8 L465.0 888.0 L471.2 888.0 L473.8 891.2 L477.0 887.5 L481.2 892.5 L486.2 890.5 L492.5 891.2 L496.2 893.0 L500.0 891.2 L503.0 893.8 L507.5 893.0 L510.5 899.5 L513.8 900.5 L518.8 899.5 L522.5 901.2 L528.8 909.5 L533.0 907.0 L537.5 911.2 L542.0 913.8 L544.5 922.5 L547.5 914.5 L551.2 919.5 L555.0 920.5 L560.0 926.2 L563.8 926.2 L568.8 931.2 L574.5 935.5 L580.0 936.2 L583.0 934.5 L585.0 942.0 L588.0 940.0 L592.0 943.0 L596.2 941.2 L602.5 947.0 L608.8 947.5 L615.0 946.2 L618.0 950.0 L621.2 946.2 L625.0 947.0 L630.0 950.0 L633.8 946.2 L641.2 946.2 L645.0 947.5 L649.0 951.2 L649.0 950.0 L654.0 946.2 L659.0 950.0 L662.8 947.0 L667.8 947.5 L672.8 950.0 L675.2 947.0 L677.8 940.0 L681.0 945.0 L687.0 945.0 L689.0 951.2 L692.0 954.5 L695.2 953.8 L697.8 960.5 L701.5 962.0 L704.0 965.5 L709.0 967.0 L713.5 969.5 L715.2 975.0 L720.2 973.8 L727.8 974.5 L730.2 980.5 L735.2 979.5 L740.2 987.5 L744.0 988.0 L745.2 986.2 L748.5 993.0 L752.8 991.2 L756.0 992.0 L760.2 997.0 L765.2 1000.5 L770.2 1003.0 L776.0 1005.0 L781.5 1010.0 L786.0 1016.2 L789.0 1014.5 L794.0 1017.0 L799.0 1018.8 L803.5 1017.0 L806.5 1019.5 L811.5 1022.0 L815.2 1021.2 L818.5 1019.5 L820.2 1027.5 L825.2 1023.8 L829.5 1020.0 L835.2 1025.0 L839.0 1020.5 L842.8 1024.5 L847.8 1025.0 L856.5 1023.0 L864.0 1023.8 L867.8 1021.2 L870.2 1024.5 L873.5 1022.0 L879.0 1026.2 L882.8 1019.5 L887.8 1023.0 L896.5 1023.0 L900.2 1022.5 L902.8 1024.5 L904.5 1021.2 L907.8 1023.0 L911.0 1022.0 L916.5 1023.0 L921.5 1025.0 L925.2 1021.2 L929.0 1016.2 L931.5 1022.5 L936.5 1018.8 L940.2 1019.5 L944.0 1018.8 L945.2 1020.5 L948.5 1017.5 L951.5 1022.0 L956.5 1020.5 L959.0 1022.0 L966.5 1021.2 L971.5 1022.0 L976.5 1020.5 L980.2 1016.2 L982.8 1022.0 L986.5 1022.5 L989.0 1020.0 L995.2 1019.5 L1000.2 1015.5 L1004.0 1018.0 L1009.0 1018.0 L1014.0 1020.0 L1019.0 1020.5 L1021.0 1023.8 L1024.0 1020.0 L1028.5 1022.5 L1032.8 1018.0 L1036.0 1018.0 L1040.2 1022.0 L1044.0 1021.2 L1049.0 1023.8 L1055.2 1022.0 L1061.5 1021.2 L1066.5 1020.0 L1070.2 1021.2 L1074.0 1018.0 L1078.5 1018.8 L1081.5 1015.5 L1086.5 1019.5 L1090.2 1016.2 L1096.5 1012.0 L1100.2 1011.2 L1104.0 1012.5 L1108.5 1010.0 L1110.2 1010.0 L1114.0 1005.5 L1118.0 1007.0 L1118.0 1008.0 L1123.0 1004.5 L1128.0 1002.0 L1132.5 1000.0 L1135.5 995.5 L1138.5 1001.2 L1143.0 995.0 L1148.0 992.0 L1153.0 985.5 L1156.0 981.2 L1159.2 981.2 L1163.0 975.0 L1166.8 971.2 L1170.5 962.5 L1174.2 952.5 L1178.0 937.5 L1180.5 920.0 L1183.0 900.0 L1185.5 880.0 L1188.0 860.0 L1190.0 835.0 L1191.8 805.0 L1193.0 775.0 L1194.2 745.0 L1195.0 714.5 L1195.2 706.5"/>
<path d="M1227.9 706.5 L1228.0 714.5 L1228.5 745.0 L1230.0 775.0 L1231.8 805.0 L1233.5 835.0 L1235.5 860.0 L1238.0 880.0 L1241.0 895.0 L1244.2 907.5 L1247.5 917.5 L1251.8 925.0 L1255.0 932.0 L1260.5 932.5 L1264.2 937.0 L1268.0 933.8 L1274.2 928.8 L1279.2 928.0 L1281.8 925.0 L1285.5 916.2 L1289.2 907.5 L1291.8 900.0 L1295.5 901.2 L1297.5 886.2 L1301.8 877.5 L1304.2 863.8 L1308.0 856.2 L1310.5 838.8 L1314.2 827.5 L1318.0 818.8 L1321.0 827.5 L1325.0 842.5 L1327.5 857.5 L1330.0 880.0 L1332.5 897.5 L1335.5 912.5 L1338.0 930.0 L1341.0 942.5 L1343.0 953.0 L1346.0 954.5 L1349.2 961.2 L1354.2 965.5 L1358.0 971.2 L1364.2 977.5 L1370.5 975.5 L1376.8 978.8 L1383.0 980.5 L1386.8 983.8 L1390.5 978.8 L1396.8 979.5 L1401.8 977.0 L1408.0 982.0 L1411.8 979.5 L1414.2 981.2 L1419.2 977.5 L1425.5 982.0 L1430.5 978.0 L1438.0 977.0 L1441.8 981.2 L1444.2 975.0 L1450.5 979.5 L1454.2 977.0 L1459.2 982.0 L1463.0 978.8 L1470.5 978.0 L1476.8 983.0 L1483.0 982.5 L1489.2 981.2 L1493.0 982.0 L1498.0 978.8 L1501.8 982.0 L1506.8 980.5 L1513.0 977.0 L1516.8 980.5 L1521.8 978.8 L1528.0 981.2 L1531.8 977.0 L1536.8 980.5 L1541.8 978.8 L1548.0 978.0 L1551.8 975.5 L1555.5 977.0 L1561.8 975.0 L1565.5 970.5 L1568.0 974.5 L1576.8 975.0 L1583.0 975.0 L1587.0 973.0 L1588.0 973.8 L1594.2 972.5 L1599.2 972.0 L1602.5 975.0 L1606.8 973.0 L1610.5 970.5 L1615.5 973.8 L1621.8 973.0 L1624.2 970.5 L1627.5 973.8 L1631.8 972.5 L1639.2 972.5 L1644.2 970.5 L1649.2 970.0 L1654.2 974.5 L1658.0 972.0 L1663.0 971.2 L1666.0 975.5 L1670.5 973.0 L1676.0 973.0 L1679.2 970.5 L1683.0 973.8 L1688.0 974.5 L1691.8 970.5 L1695.5 972.5 L1698.5 973.8 L1701.0 967.5 L1704.2 965.0 L1706.8 967.5 L1710.0 965.0 L1713.5 964.5 L1716.0 958.8 L1719.2 956.2 L1722.5 958.8 L1726.8 960.5 L1730.0 963.8 L1733.0 970.0 L1736.0 974.5 L1739.2 982.5 L1743.0 991.2 L1746.8 1000.0 L1749.2 1005.0 L1754.2 1010.5 L1759.2 1015.5 L1763.5 1018.8 L1765.5 1023.8 L1770.5 1024.5 L1775.5 1028.0 L1779.2 1025.5 L1781.8 1031.2 L1786.8 1032.0 L1791.8 1035.0 L1796.8 1034.5 L1801.8 1037.5 L1806.0 1038.0 L1809.2 1042.0 L1811.8 1043.8 L1820.5 1040.5 L1830.5 1041.2 L1840.5 1042.5 L1844.2 1045.0"/>
</g>
<g clip-path="url(#cp4)" stroke="#000" fill="none" stroke-width="3" stroke-linejoin="round" stroke-linecap="butt">
<path d="M190.5 1133.0 L195.0 1132.0 L200.0 1140.0 L203.0 1143.0 L206.2 1142.5 L208.0 1162.5 L211.2 1171.2 L214.5 1173.8 L218.8 1172.5 L221.2 1168.8 L223.8 1178.8 L227.5 1183.0 L231.2 1186.2 L237.0 1184.5 L239.5 1179.5 L245.5 1183.0 L247.5 1197.0 L252.5 1191.2 L256.2 1185.0 L260.0 1195.0 L265.0 1190.0 L267.0 1185.0 L269.5 1192.0 L271.2 1176.2 L273.8 1183.8 L275.0 1192.0 L278.8 1180.5 L285.0 1180.0 L290.0 1185.0 L293.8 1191.2 L297.5 1200.0 L300.0 1205.5 L305.0 1202.5 L306.2 1205.5 L311.2 1198.8 L313.8 1205.5 L318.8 1205.5 L322.5 1211.2 L326.2 1216.2 L330.0 1220.0 L332.0 1227.0 L335.5 1222.0 L338.8 1227.5 L342.5 1233.8 L345.5 1232.0 L347.5 1238.8 L351.2 1227.0 L353.8 1225.5 L357.0 1227.0 L358.8 1243.0 L362.5 1240.5 L365.0 1248.0 L368.8 1240.5 L371.2 1246.2 L374.5 1241.2 L377.5 1249.5 L383.8 1250.0 L390.0 1252.0 L392.5 1246.2 L398.8 1245.0 L401.2 1253.8 L405.0 1256.2 L407.5 1259.5 L410.5 1253.0 L413.8 1263.8 L420.0 1265.0 L425.0 1265.5 L428.8 1260.0 L430.0 1265.0 L433.8 1257.5 L437.0 1268.0 L440.0 1270.0 L442.5 1267.5 L446.2 1273.0 L451.2 1268.0 L456.2 1271.2 L461.2 1270.5 L465.0 1275.0 L470.0 1268.8 L475.0 1275.5 L478.0 1266.2 L482.5 1262.5 L486.2 1255.0 L490.0 1248.8 L492.5 1246.2 L496.2 1248.8 L501.2 1248.8 L506.2 1253.8 L511.2 1248.8 L515.0 1258.0 L517.5 1263.8 L520.0 1255.0 L522.5 1266.2 L525.5 1256.2 L528.8 1262.5 L535.0 1261.2 L538.8 1272.5 L541.2 1267.0 L544.5 1270.5 L549.5 1272.5 L554.5 1270.5 L557.5 1285.5 L562.5 1283.0 L568.8 1288.8 L574.5 1284.5 L578.8 1295.0 L583.8 1286.2 L587.5 1290.0 L590.0 1288.8 L595.5 1295.0 L602.5 1290.5 L608.8 1291.2 L615.0 1290.5 L618.8 1286.2 L622.5 1288.8 L625.5 1278.8 L631.2 1277.5 L636.2 1279.5 L641.2 1280.0 L645.5 1275.5 L649.0 1274.5 L649.0 1275.5 L652.8 1279.5 L656.5 1270.0 L661.5 1258.0 L666.5 1245.5 L670.2 1238.8 L675.2 1232.5 L679.5 1235.5 L681.5 1245.0 L683.5 1257.5 L686.0 1268.8 L689.0 1276.2 L691.0 1284.5 L694.0 1287.5 L697.8 1297.0 L701.5 1305.5 L705.2 1308.8 L710.2 1315.0 L715.2 1317.0 L720.2 1322.5 L724.0 1328.0 L727.8 1331.2 L731.5 1338.8 L735.2 1346.2 L738.5 1340.5 L742.0 1350.0 L746.5 1352.5 L750.2 1353.0 L752.8 1359.5 L756.0 1357.5 L757.8 1363.0 L762.8 1365.0 L767.8 1368.8 L771.5 1376.2 L775.2 1382.0 L778.5 1386.2 L782.0 1394.5 L786.5 1393.8 L789.0 1392.5 L791.0 1398.0 L794.0 1391.2 L797.8 1391.2 L799.0 1402.0 L804.0 1396.2 L809.0 1402.5 L814.0 1403.8 L819.0 1403.8 L822.0 1407.0 L826.0 1402.0 L830.2 1407.0 L834.5 1406.2 L837.8 1403.0 L841.0 1405.5 L844.0 1412.5 L848.5 1404.5 L852.0 1412.0 L855.2 1411.2 L860.2 1407.0 L864.0 1408.8 L869.0 1407.0 L871.5 1408.8 L875.2 1407.0 L877.8 1413.8 L880.2 1401.2 L882.8 1406.2 L890.2 1406.2 L895.2 1405.5 L900.2 1406.2 L905.2 1413.0 L909.0 1413.8 L912.8 1410.0 L916.5 1411.2 L919.5 1408.8 L923.5 1406.2 L927.0 1408.8 L930.2 1400.5 L933.5 1401.2 L936.5 1408.8 L939.0 1410.0 L942.0 1401.2 L946.5 1408.0 L950.2 1407.5 L957.8 1403.8 L962.8 1403.8 L966.0 1400.5 L969.5 1403.8 L973.5 1397.5 L977.8 1400.0 L982.8 1399.5 L985.2 1396.2 L987.8 1402.0 L993.5 1395.5 L996.5 1400.0 L1002.8 1400.0 L1007.8 1403.8 L1012.8 1408.8 L1016.5 1407.5 L1019.5 1415.0 L1024.0 1412.5 L1027.8 1410.0 L1031.0 1418.0 L1035.2 1421.2 L1039.5 1425.0 L1042.8 1421.2 L1046.5 1425.0 L1050.2 1425.0 L1054.5 1430.0 L1058.5 1423.8 L1062.8 1423.8 L1066.5 1420.0 L1068.5 1415.0 L1071.0 1421.2 L1074.0 1414.5 L1078.5 1417.5 L1082.8 1410.0 L1086.0 1408.0 L1088.5 1404.5 L1091.5 1412.5 L1093.5 1401.2 L1096.5 1403.8 L1101.0 1400.0 L1103.5 1402.0 L1107.8 1392.5 L1111.5 1393.8 L1115.2 1388.8 L1118.0 1378.8 L1118.0 1381.2 L1121.0 1377.0 L1126.0 1377.0 L1128.5 1367.0 L1131.8 1371.2 L1135.0 1368.8 L1139.2 1359.5 L1143.0 1348.8 L1147.5 1337.5 L1150.5 1325.0 L1153.5 1313.8 L1157.5 1302.5 L1160.0 1287.5 L1162.5 1270.0 L1165.0 1247.5 L1167.5 1220.0 L1169.2 1190.0 L1171.0 1160.0 L1173.0 1130.0 L1175.0 1101.2 L1175.6 1093.2"/>
<path d="M1232.7 1093.2 L1233.5 1101.2 L1235.5 1122.5 L1237.5 1145.0 L1240.0 1172.5 L1242.5 1200.0 L1245.5 1220.0 L1248.5 1237.5 L1251.8 1250.0 L1255.5 1260.0 L1260.0 1266.2 L1262.5 1278.8 L1265.5 1281.2 L1268.5 1277.0 L1273.0 1281.2 L1279.2 1282.0 L1281.8 1275.0 L1285.0 1270.0 L1288.5 1270.5 L1291.8 1261.2 L1295.0 1253.8 L1296.8 1241.2 L1301.0 1233.8 L1303.5 1215.0 L1306.0 1201.2 L1308.0 1183.8 L1311.8 1177.5 L1315.0 1170.0 L1318.0 1173.8 L1320.5 1186.2 L1322.5 1205.0 L1325.0 1225.0 L1328.5 1250.0 L1331.0 1275.0 L1334.2 1297.5 L1336.0 1317.5 L1339.2 1322.5 L1341.8 1333.8 L1345.5 1337.5 L1348.5 1345.0 L1351.0 1352.5 L1354.2 1354.5 L1359.2 1363.8 L1364.2 1361.2 L1371.8 1365.0 L1376.8 1358.0 L1379.2 1363.8 L1381.8 1362.5 L1385.0 1357.0 L1387.5 1360.0 L1390.5 1355.0 L1393.0 1360.5 L1396.8 1357.0 L1400.5 1357.0 L1405.5 1353.0 L1410.5 1353.8 L1415.5 1345.0 L1417.5 1350.0 L1420.5 1341.2 L1424.2 1343.0 L1428.0 1341.2 L1431.8 1333.8 L1435.5 1342.0 L1438.5 1335.0 L1443.0 1335.0 L1448.0 1333.0 L1450.0 1331.2 L1453.0 1338.8 L1458.0 1336.2 L1461.8 1345.0 L1466.0 1348.8 L1469.2 1345.0 L1471.8 1351.2 L1476.8 1344.5 L1481.8 1347.5 L1486.8 1352.0 L1490.5 1350.0 L1491.8 1340.0 L1494.2 1350.5 L1498.0 1350.0 L1503.0 1342.5 L1506.0 1348.8 L1510.0 1347.5 L1513.0 1338.8 L1515.5 1347.5 L1518.0 1336.2 L1521.0 1348.8 L1523.5 1339.5 L1527.5 1333.8 L1531.8 1333.8 L1535.5 1338.0 L1539.2 1340.0 L1542.5 1332.0 L1545.5 1335.0 L1550.0 1336.2 L1554.2 1331.2 L1559.2 1325.0 L1563.0 1326.2 L1566.8 1320.0 L1571.0 1322.0 L1574.2 1320.5 L1579.2 1323.8 L1583.0 1326.2 L1587.0 1318.8 L1588.0 1318.8 L1591.8 1325.0 L1594.2 1329.5 L1598.5 1324.5 L1601.8 1325.5 L1606.8 1327.5 L1610.0 1324.5 L1614.2 1324.5 L1618.0 1331.2 L1622.5 1328.8 L1625.5 1333.0 L1631.8 1333.0 L1635.5 1328.8 L1638.5 1325.5 L1641.8 1334.5 L1645.0 1328.0 L1648.0 1330.5 L1651.0 1327.5 L1655.5 1329.5 L1658.0 1333.0 L1661.8 1337.5 L1666.0 1334.5 L1670.0 1336.2 L1673.0 1329.5 L1676.0 1333.0 L1680.5 1335.5 L1684.2 1333.8 L1688.0 1332.0 L1691.0 1327.5 L1693.5 1329.5 L1696.8 1322.0 L1700.5 1326.2 L1703.5 1320.0 L1706.0 1318.0 L1709.2 1310.0 L1713.0 1308.8 L1716.0 1313.0 L1720.0 1315.0 L1723.5 1319.5 L1727.5 1325.0 L1730.0 1333.8 L1732.5 1347.5 L1735.0 1357.5 L1738.0 1365.0 L1740.5 1372.5 L1744.2 1377.5 L1746.8 1383.8 L1750.0 1391.2 L1754.2 1393.0 L1756.8 1402.5 L1760.5 1405.0 L1761.8 1410.0 L1766.8 1403.8 L1769.2 1415.0 L1773.0 1414.5 L1777.5 1410.5 L1780.5 1416.2 L1785.5 1417.5 L1789.2 1423.8 L1791.8 1426.2 L1796.8 1423.8 L1800.5 1426.2 L1804.2 1423.8 L1808.0 1430.5 L1813.0 1427.5 L1816.8 1427.5 L1819.2 1423.8 L1821.8 1429.5 L1825.0 1423.0 L1828.0 1427.5 L1833.0 1428.8 L1839.2 1426.2"/>
</g>
<g clip-path="url(#cp5)" stroke="#000" fill="none" stroke-width="3" stroke-linejoin="round" stroke-linecap="butt">
<path d="M212.6 1498.2 L214.5 1506.2 L215.5 1510.5 L219.5 1512.0 L222.0 1510.5 L224.5 1518.8 L228.8 1516.2 L231.2 1522.0 L233.8 1517.0 L236.2 1531.2 L240.0 1521.2 L243.0 1537.0 L245.5 1525.5 L248.8 1525.5 L252.5 1531.2 L254.5 1541.2 L259.5 1542.0 L263.8 1542.0 L267.0 1541.2 L269.5 1553.0 L272.5 1537.0 L275.0 1547.5 L278.0 1537.5 L281.2 1546.2 L285.0 1539.5 L288.0 1540.5 L291.2 1536.2 L294.5 1543.8 L297.5 1543.0 L299.5 1558.8 L303.0 1548.8 L305.5 1558.0 L309.5 1559.5 L312.0 1560.5 L314.5 1567.5 L317.5 1556.2 L320.5 1564.5 L324.5 1563.0 L327.0 1570.0 L330.0 1565.0 L333.0 1576.2 L336.2 1576.2 L338.0 1586.2 L341.2 1587.0 L344.5 1592.0 L348.8 1595.0 L352.5 1590.5 L360.0 1591.2 L363.0 1585.5 L366.2 1590.0 L368.0 1599.5 L372.0 1598.0 L377.5 1603.0 L382.0 1603.0 L383.8 1610.5 L387.5 1608.8 L391.2 1610.5 L395.5 1607.0 L401.2 1606.2 L405.0 1610.0 L407.0 1622.5 L410.0 1616.2 L413.8 1625.5 L416.2 1617.0 L420.0 1622.5 L423.0 1633.8 L428.8 1625.0 L431.2 1635.5 L435.0 1628.8 L438.8 1632.0 L441.2 1630.0 L445.0 1638.8 L449.5 1637.5 L452.5 1643.8 L456.2 1640.0 L458.0 1632.5 L461.2 1641.2 L463.8 1644.5 L467.5 1640.5 L470.5 1643.0 L474.5 1640.5 L478.8 1642.5 L483.0 1641.2 L485.0 1633.8 L488.8 1633.0 L492.5 1626.2 L497.0 1618.8 L501.2 1617.5 L506.2 1622.0 L510.0 1617.0 L513.8 1616.2 L518.0 1619.5 L520.5 1628.8 L523.8 1635.5 L527.0 1632.0 L528.8 1636.2 L532.0 1622.0 L536.2 1627.5 L540.0 1633.0 L543.0 1635.0 L545.0 1643.8 L547.5 1629.5 L550.0 1646.2 L553.0 1634.5 L555.5 1642.0 L559.5 1642.5 L566.2 1646.2 L572.5 1650.5 L575.0 1656.2 L578.8 1653.8 L582.5 1648.0 L585.5 1668.8 L590.0 1660.0 L593.8 1667.0 L597.0 1666.2 L601.2 1673.0 L607.5 1672.5 L610.0 1662.5 L613.8 1670.0 L618.0 1673.8 L623.8 1668.8 L627.5 1667.0 L632.0 1662.5 L635.5 1656.2 L638.8 1655.0 L642.0 1653.8 L645.0 1647.0 L649.0 1657.5 L649.0 1656.2 L652.0 1650.0 L655.2 1642.5 L660.2 1642.0 L662.8 1636.2 L666.0 1630.0 L668.5 1618.8 L671.5 1625.5 L674.5 1618.8 L677.0 1600.0 L680.2 1598.0 L684.0 1595.0 L687.0 1600.0 L689.0 1615.0 L691.5 1627.5 L695.2 1633.0 L697.8 1644.5 L701.0 1655.0 L704.0 1665.0 L707.0 1673.8 L710.2 1677.5 L712.8 1682.5 L716.0 1683.0 L717.8 1697.5 L721.5 1695.5 L724.0 1701.2 L727.8 1704.5 L730.2 1708.8 L734.0 1707.5 L736.0 1718.8 L739.0 1725.0 L742.0 1737.5 L745.2 1731.2 L747.8 1746.2 L751.0 1738.8 L754.0 1745.0 L757.0 1752.5 L759.5 1759.5 L762.8 1758.8 L765.2 1768.8 L769.0 1766.2 L772.8 1769.5 L776.0 1771.2 L777.8 1777.5 L781.0 1779.5 L783.5 1787.5 L786.0 1793.8 L789.0 1792.5 L792.0 1790.0 L795.2 1796.2 L798.5 1800.0 L802.0 1797.5 L806.0 1800.5 L809.0 1797.5 L812.0 1805.0 L816.5 1805.5 L820.2 1808.0 L823.5 1803.8 L826.5 1807.5 L830.2 1804.5 L834.0 1807.0 L839.5 1807.0 L841.5 1812.0 L844.5 1807.5 L847.8 1812.0 L852.0 1808.8 L855.2 1806.2 L858.5 1807.5 L862.0 1812.0 L865.2 1806.2 L868.5 1808.8 L871.5 1807.0 L874.5 1808.0 L876.5 1815.0 L879.5 1814.5 L882.0 1808.0 L885.2 1810.0 L890.2 1806.2 L893.5 1815.0 L896.0 1814.5 L899.0 1807.0 L902.8 1809.5 L906.5 1808.8 L911.5 1808.8 L914.0 1819.5 L917.8 1814.5 L922.8 1805.5 L926.5 1808.0 L929.0 1807.5 L932.0 1813.8 L935.2 1815.0 L937.0 1805.0 L940.2 1807.0 L946.5 1808.8 L950.2 1807.0 L954.0 1805.5 L957.8 1810.0 L961.0 1807.5 L963.5 1810.5 L966.0 1799.5 L969.0 1802.0 L973.5 1802.5 L976.5 1798.0 L980.2 1795.5 L982.8 1807.0 L987.0 1800.0 L990.2 1798.8 L994.0 1800.0 L997.8 1795.0 L1001.5 1791.2 L1005.2 1793.8 L1010.2 1798.0 L1012.8 1807.5 L1015.2 1809.5 L1019.0 1806.2 L1022.8 1810.5 L1025.2 1810.5 L1027.0 1815.0 L1031.5 1812.0 L1036.5 1810.5 L1040.2 1814.5 L1044.0 1816.2 L1046.5 1821.2 L1050.2 1820.0 L1052.8 1825.0 L1055.2 1832.0 L1060.2 1827.5 L1063.5 1832.0 L1066.0 1820.0 L1069.0 1822.5 L1072.8 1817.0 L1075.2 1817.0 L1078.5 1819.5 L1081.5 1818.8 L1083.5 1807.0 L1087.0 1810.0 L1091.5 1807.0 L1095.2 1798.8 L1098.5 1793.8 L1101.0 1794.5 L1104.5 1785.0 L1107.0 1782.0 L1109.0 1788.8 L1112.0 1785.0 L1114.5 1777.5 L1118.0 1775.5 L1118.0 1778.8 L1122.5 1772.5 L1125.5 1766.2 L1128.5 1756.2 L1131.8 1747.5 L1134.2 1740.0 L1138.5 1736.2 L1142.5 1727.5 L1146.0 1717.5 L1149.2 1707.5 L1153.0 1698.8 L1155.5 1685.0 L1158.5 1667.5 L1161.0 1650.0 L1163.5 1635.0 L1166.0 1612.5 L1168.5 1590.0 L1170.5 1567.5 L1172.0 1545.0 L1173.5 1522.5 L1175.0 1505.5 L1175.7 1497.5"/>
<path d="M1250.9 1497.5 L1251.8 1505.5 L1253.5 1522.5 L1255.5 1542.5 L1257.5 1557.5 L1261.0 1570.0 L1264.2 1581.2 L1266.8 1593.0 L1270.5 1597.5 L1275.0 1606.2 L1278.0 1617.5 L1281.0 1625.0 L1285.0 1621.2 L1289.2 1631.2 L1293.0 1628.8 L1295.5 1643.8 L1298.5 1638.0 L1302.5 1642.5 L1306.0 1650.0 L1310.0 1658.8 L1313.5 1657.5 L1316.0 1652.0 L1318.0 1661.2 L1321.0 1670.0 L1324.2 1662.5 L1326.8 1677.0 L1330.0 1680.0 L1331.8 1686.2 L1335.5 1687.0 L1338.0 1700.0 L1341.0 1706.2 L1343.5 1714.5 L1347.5 1715.0 L1351.8 1720.0 L1355.5 1718.8 L1359.2 1722.5 L1361.8 1728.8 L1366.0 1740.5 L1369.2 1730.0 L1372.5 1724.5 L1375.5 1728.8 L1378.5 1733.8 L1382.5 1728.8 L1386.0 1733.8 L1390.0 1731.2 L1394.2 1728.8 L1397.5 1722.5 L1401.8 1717.5 L1405.5 1727.5 L1408.5 1722.0 L1412.5 1723.8 L1416.0 1717.5 L1420.0 1713.0 L1424.2 1712.0 L1427.5 1714.5 L1430.5 1702.5 L1433.5 1697.5 L1436.8 1694.5 L1440.0 1701.2 L1442.5 1707.0 L1446.0 1697.0 L1448.5 1693.8 L1451.0 1698.8 L1453.5 1692.5 L1456.8 1699.5 L1461.8 1702.0 L1466.8 1701.2 L1470.5 1698.8 L1473.5 1707.0 L1476.8 1715.0 L1480.5 1708.8 L1484.2 1711.2 L1489.2 1708.8 L1492.5 1715.0 L1495.5 1708.0 L1498.0 1709.5 L1501.0 1724.5 L1504.2 1712.5 L1508.0 1707.0 L1513.0 1706.2 L1516.8 1708.8 L1519.2 1713.8 L1521.8 1708.8 L1524.2 1713.0 L1526.8 1705.0 L1531.8 1702.5 L1536.0 1702.0 L1540.5 1698.8 L1543.5 1693.8 L1546.8 1698.0 L1554.2 1697.5 L1556.0 1685.0 L1559.2 1683.0 L1562.5 1692.5 L1565.5 1681.2 L1568.5 1683.8 L1574.2 1676.2 L1577.5 1682.5 L1580.5 1680.0 L1583.5 1683.8 L1587.0 1682.0 L1588.0 1681.2 L1593.0 1680.5 L1598.0 1682.0 L1601.0 1690.0 L1606.8 1689.5 L1610.5 1685.5 L1613.0 1690.5 L1616.0 1687.0 L1619.2 1687.5 L1621.0 1696.2 L1623.5 1684.5 L1626.8 1684.5 L1630.0 1682.5 L1633.0 1692.5 L1636.8 1694.5 L1640.0 1691.2 L1643.0 1685.0 L1648.0 1684.5 L1651.8 1686.2 L1655.0 1695.0 L1657.5 1687.0 L1661.0 1690.0 L1666.0 1698.8 L1670.0 1692.5 L1673.0 1697.0 L1676.8 1695.0 L1679.2 1701.2 L1682.5 1689.5 L1685.5 1701.2 L1688.5 1705.5 L1691.8 1692.5 L1695.0 1697.0 L1697.5 1693.8 L1700.0 1700.5 L1705.0 1692.5 L1707.5 1702.5 L1711.0 1689.5 L1715.0 1688.0 L1719.2 1688.0 L1722.5 1692.5 L1726.8 1692.5 L1730.5 1692.0 L1731.8 1722.5 L1735.0 1712.5 L1738.0 1709.5 L1740.5 1720.0 L1744.2 1726.2 L1747.5 1751.2 L1751.0 1755.0 L1755.0 1755.0 L1757.5 1761.2 L1760.0 1772.0 L1763.0 1775.0 L1766.0 1786.2 L1770.0 1784.5 L1773.0 1786.2 L1777.5 1790.5 L1780.0 1791.2 L1781.8 1798.8 L1786.0 1800.5 L1789.2 1807.0 L1792.5 1804.5 L1795.5 1812.0 L1799.2 1813.8 L1801.8 1816.2 L1806.0 1812.5 L1809.2 1822.0 L1815.0 1813.0 L1817.5 1818.8 L1820.0 1815.0 L1823.0 1815.5 L1826.0 1812.5 L1830.5 1816.2 L1836.0 1818.8 L1839.2 1815.5 L1842.5 1819.5 L1846.0 1817.5"/>
</g>
<g font-family="'Liberation Sans', sans-serif" fill="#000">
<text transform="translate(273.5 256.0) scale(1.13 1)" font-size="78" text-anchor="start">NS36</text>
<text transform="translate(283.8 633.3) scale(1.13 1)" font-size="78" text-anchor="start">NS37</text>
<text transform="translate(256.0 991.3) scale(1.13 1)" font-size="78" text-anchor="start">NS38</text>
<text transform="translate(273.0 1404.5) scale(1.13 1)" font-size="78" text-anchor="start">NS42</text>
<text transform="translate(273.0 1790.0) scale(1.13 1)" font-size="78" text-anchor="start">NS45</text>
<text transform="translate(647.0 1202.5) scale(1.14 1)" font-size="71.5" text-anchor="start">Si</text>
<text transform="translate(1189.0 1654.0) scale(1.14 1)" font-size="71.5" text-anchor="start">Si</text>
<text transform="translate(237.0 452.8) scale(1.09 1)" font-size="65" font-weight="bold" text-anchor="start">E<tspan font-size="52" dy="24" dx="-1">2</tspan><tspan dy="-24" dx="-2" letter-spacing="0">(low)</tspan></text>
<text transform="translate(1364.0 806.8) scale(1.09 1)" font-size="65" font-weight="bold" text-anchor="start">E<tspan font-size="52" dy="24" dx="-1">2</tspan><tspan dy="-24" dx="-2" letter-spacing="-0.5">(high)</tspan></text>
<text transform="translate(1651.0 1259.1) scale(1.09 1)" font-size="65" font-weight="bold" text-anchor="start">A<tspan font-size="52" dy="24" dx="-2">1</tspan><tspan dy="-24" dx="-1.5" letter-spacing="0">(LO)</tspan></text>
<text transform="translate(194.5 1956.0) scale(1.085 1)" font-size="80" text-anchor="middle">100</text>
<text transform="translate(434.6 1956.0) scale(1.085 1)" font-size="80" text-anchor="middle">200</text>
<text transform="translate(676.8 1956.0) scale(1.085 1)" font-size="80" text-anchor="middle">300</text>
<text transform="translate(919.0 1956.0) scale(1.085 1)" font-size="80" text-anchor="middle">400</text>
<text transform="translate(1161.1 1956.0) scale(1.085 1)" font-size="80" text-anchor="middle">500</text>
<text transform="translate(1403.2 1956.0) scale(1.085 1)" font-size="80" text-anchor="middle">600</text>
<text transform="translate(1645.4 1956.0) scale(1.085 1)" font-size="80" text-anchor="middle">700</text>
<text transform="translate(1887.5 1956.0) scale(1.085 1)" font-size="80" text-anchor="middle">800</text>
<text transform="translate(661.5 2047.4) scale(1.1035 1)" font-size="79" text-anchor="start">Raman Shift</text>
<text transform="translate(1171.5 2045.0) scale(1.0 1)" font-size="84" text-anchor="start">(</text>
<text transform="translate(1210.0 2047.4) scale(1.12 1)" font-size="79" text-anchor="start">cm</text>
<text transform="translate(1327.5 2005.6) scale(1.12 1)" font-size="59" text-anchor="start">-1</text>
<text transform="translate(1389.5 2044.0) scale(1.3 1)" font-size="57" text-anchor="start">)</text>
<text transform="translate(87.9 1171) rotate(-90) scale(1.08 1)" font-size="79" letter-spacing="-4.05">Intensity (a.u)</text>
</g>
</svg>
</body></html>
